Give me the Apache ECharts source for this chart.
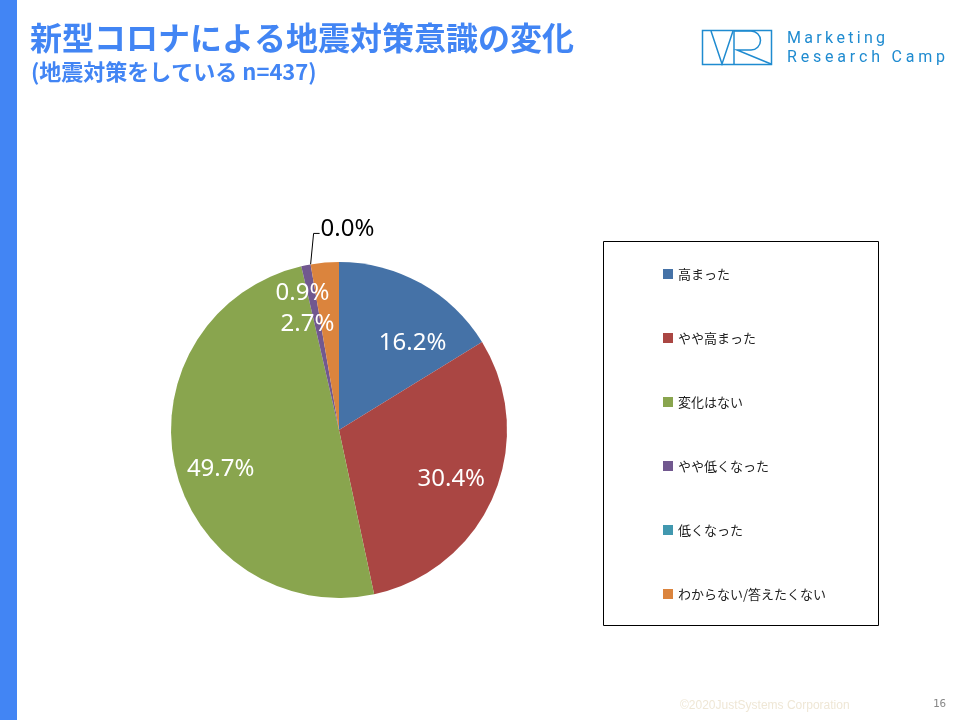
<!DOCTYPE html>
<html>
<head>
<meta charset="utf-8">
<script src="https://cdn.jsdelivr.net/npm/echarts@6/dist/echarts.min.js"></script>
<style>
  html, body { margin: 0; padding: 0; background: #fff; }
  #chart { width: 960px; height: 720px; }
</style>
</head>
<body>
<div id="chart"></div>
<script>
// データ（地震対策をしている n=437, %）
const categories = ['高まった', 'やや高まった', '変化はない', 'やや低くなった', '低くなった', 'わからない/答えたくない'];
const shares = [16.2, 30.4, 49.7, 0.9, 0.0, 2.7];
const colors = ['#4572A7', '#AA4643', '#89A54E', '#71588F', '#4198AF', '#DB843D'];

// レイアウト
const CX = 339, CY = 430, R = 168;
const LABEL_R = 120;          // Excel 風に外寄りへ
const ZERO_INDEX = 4;         // 0.0% は引き出し線つき
const nudges = { 0: [13, 22], 1: [-2, 0], 2: [3, 12], 3: [-12, -15], 5: [-21, 18] };

const chart = echarts.init(document.getElementById('chart'));

// 文字間を空けたロゴ文字
function spacedText(str, x, y, spacing, font, fill) {
  const ctx = document.createElement('canvas').getContext('2d');
  ctx.font = font;
  const out = [];
  let px = x;
  for (const ch of str) {
    out.push({ type: 'text', x: px, y: y, silent: true,
      style: { text: ch, font: font, fill: fill, verticalAlign: 'middle' } });
    px += ctx.measureText(ch).width + spacing;
  }
  return out;
}

const logoColor = '#1f8bd0';
const logoFont = '16px Roboto';
const logoLine = { stroke: logoColor, lineWidth: 1.5, fill: null };

const graphic = [
  { type: 'rect', shape: { x: 0, y: 0, width: 17, height: 720 }, style: { fill: '#4285F4' }, silent: true },
  { type: 'text', x: 30, y: 38, silent: true,
    style: { text: '新型コロナによる地震対策意識の変化', font: 'bold 32px "Noto Sans CJK JP"', fill: '#4285F4', verticalAlign: 'middle' } },
  { type: 'text', x: 31, y: 72, silent: true,
    style: { text: '(地震対策をしている n=437)', font: 'bold 22px "Noto Sans CJK JP"', fill: '#4285F4', verticalAlign: 'middle' } },
  // ロゴ
  { type: 'rect', shape: { x: 702.5, y: 30.5, width: 69, height: 34 }, style: logoLine, silent: true },
  { type: 'polyline', shape: { points: [[711, 31], [722, 64], [733, 31]] }, style: logoLine, silent: true },
  { type: 'line', shape: { x1: 734, y1: 31, x2: 734, y2: 64 }, style: logoLine, silent: true },
  { type: 'polyline', shape: { points: [[734, 31], [751, 31]] }, style: logoLine, silent: true },
  { type: 'arc', shape: { cx: 751, cy: 40.5, r: 9.5, startAngle: -Math.PI / 2, endAngle: Math.PI / 2, clockwise: true }, style: logoLine, silent: true },
  { type: 'polyline', shape: { points: [[751, 50], [737, 50], [771, 64]] }, style: logoLine, silent: true },
  ...spacedText('Marketing', 787, 39, 3.3, logoFont, logoColor),
  ...spacedText('Research Camp', 787, 58, 3.8, logoFont, logoColor),
  // 凡例の枠
  { type: 'rect', shape: { x: 603.5, y: 241.5, width: 275, height: 384 }, style: { fill: null, stroke: '#000', lineWidth: 1 }, silent: true },
  // フッター
  { type: 'text', x: 680, y: 706, silent: true,
    style: { text: '©2020JustSystems Corporation', font: '12px "Liberation Sans"', fill: '#efe7d6', verticalAlign: 'middle' } },
  { type: 'text', x: 933, y: 704, silent: true,
    style: { text: '16', font: '11px "DejaVu Sans Mono"', fill: '#888', verticalAlign: 'middle' } }
];

const pieData = categories.map((name, i) => {
  const item = { name: name, value: shares[i], itemStyle: { color: colors[i] } };
  if (i === ZERO_INDEX) {
    item.label = { position: 'outside', color: '#000' };
    item.labelLine = { show: true, length: 20, length2: 6, lineStyle: { color: '#000', width: 1 } };
  }
  return item;
});

const option = {
  animation: false,
  color: colors,
  graphic: graphic,
  legend: {
    orient: 'vertical',
    left: 658,
    top: 262,
    icon: 'rect',
    itemWidth: 10,
    itemHeight: 10,
    itemGap: 50,
    selectedMode: false,
    data: categories,
    textStyle: { fontFamily: 'Noto Sans CJK JP', fontSize: 13, color: '#222', lineHeight: 14 }
  },
  series: [
    {
      type: 'pie',
      center: [CX, CY],
      radius: R,
      startAngle: 90,
      clockwise: true,
      silent: true,
      avoidLabelOverlap: false,
      itemStyle: { borderWidth: 0 },
      emphasis: { disabled: true },
      label: {
        show: true,
        position: 'inside',
        color: '#fff',
        fontFamily: 'Noto Sans',
        fontSize: 24,
        formatter: (p) => p.value.toFixed(1) + '%'
      },
      labelLine: { show: false },
      labelLayout: function (params) {
        const i = params.dataIndex;
        if (i === ZERO_INDEX) {
          const p = params.labelLinePoints;
          if (!p) return {};
          const s = p[0];
          const p1 = [s[0] + 3, s[1] - 31];
          const p2 = [s[0] + 9, s[1] - 31];
          return { x: p2[0] + 1, y: p2[1] - 4, align: 'left', verticalAlign: 'middle', labelLinePoints: [s, p1, p2] };
        }
        // 中心からの距離を R/2 → LABEL_R へ
        const r = params.labelRect;
        const lx = r.x + r.width / 2, ly = r.y + r.height / 2;
        const k = LABEL_R / (R / 2) - 1;
        const n = nudges[i] || [0, 0];
        return { dx: (lx - CX) * k + n[0], dy: (ly - CY) * k + n[1] };
      },
      data: pieData
    }
  ]
};

chart.setOption(option);
</script>
</body>
</html>
